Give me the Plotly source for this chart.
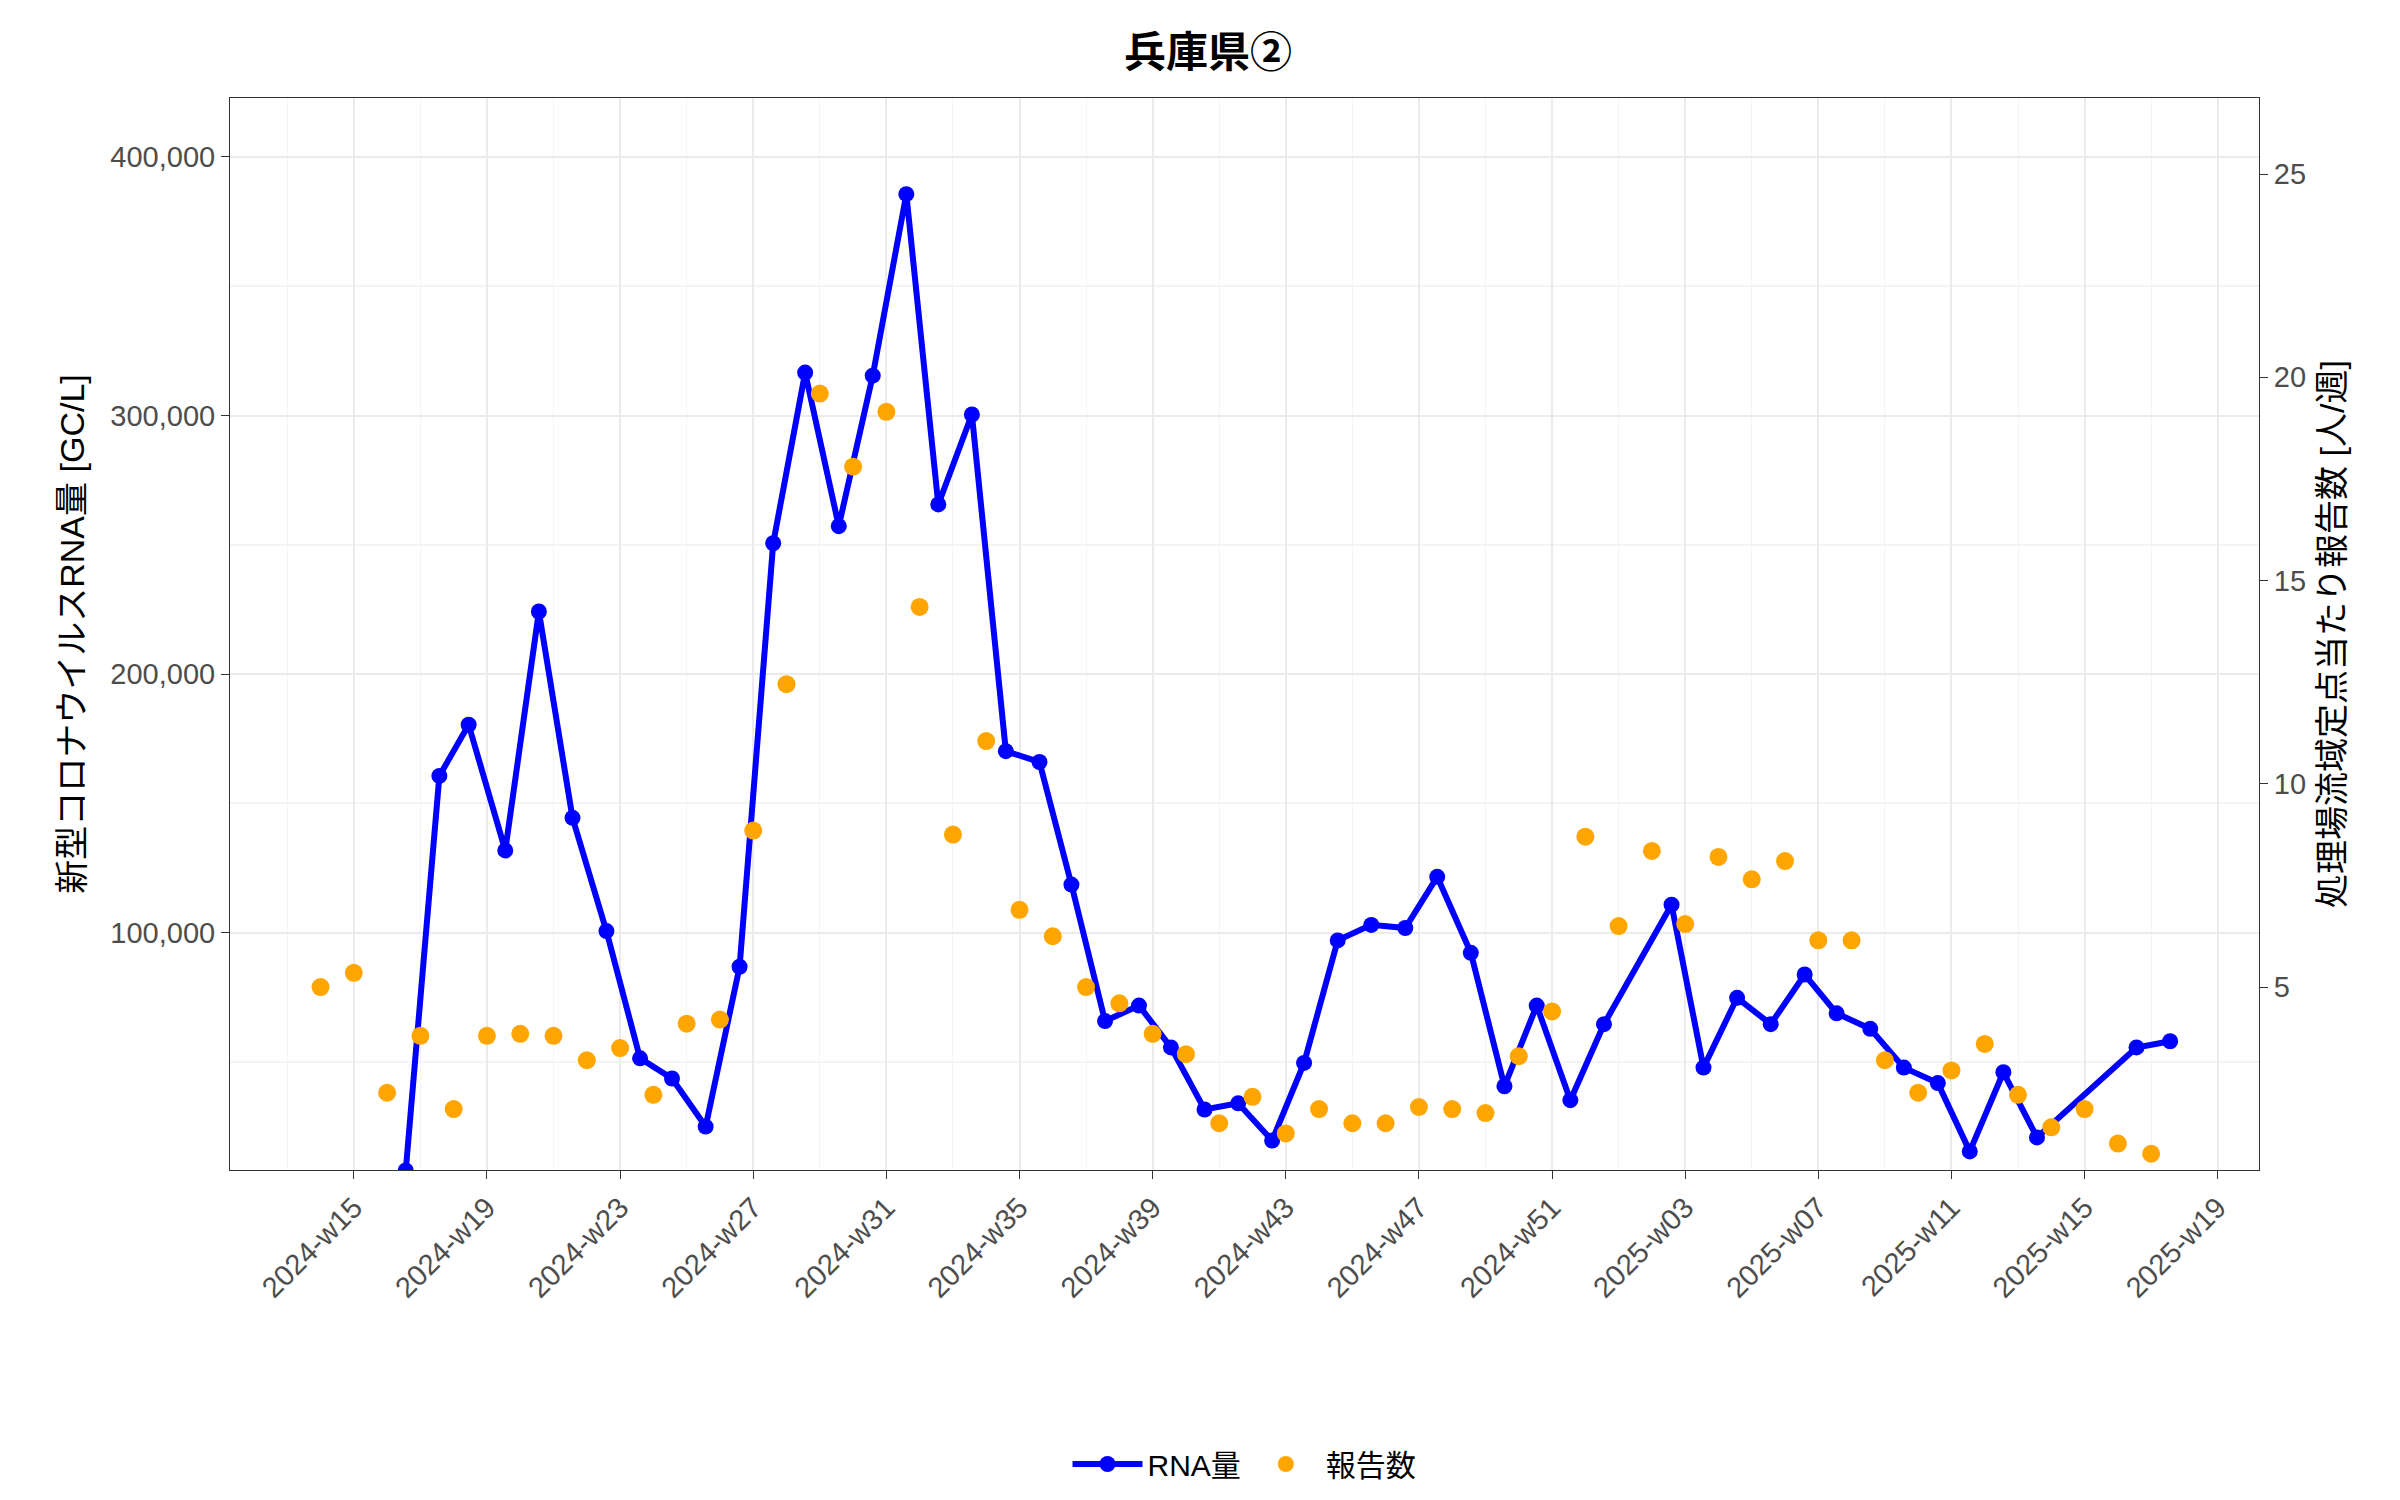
import plotly.graph_objects as go

tick_labels = ["2024-w15","2024-w19","2024-w23","2024-w27","2024-w31","2024-w35","2024-w39","2024-w43",
               "2024-w47","2024-w51","2025-w03","2025-w07","2025-w11","2025-w15","2025-w19"]
tick_pos = [0,4,8,12,16,20,24,28,32,36,40,44,48,52,56]

rep_x = list(range(-1, 55))
rep_y = [5.0,5.35,2.4,3.8,2.0,3.8,3.85,3.8,3.2,3.5,2.35,4.1,4.2,8.85,12.45,19.6,17.8,19.15,14.35,8.75,
         11.05,6.9,6.25,5.0,4.6,3.85,3.35,1.65,2.3,1.4,2.0,1.65,1.65,2.05,2.0,1.9,3.3,4.4,8.7,6.5,
         8.35,6.55,8.2,7.65,8.1,6.15,6.15,3.2,2.4,2.95,3.6,2.35,1.55,2.0,1.15,0.9]

rna_x = [1.56,2.57,3.45,4.55,5.56,6.57,7.59,8.6,9.56,10.57,11.59,12.6,13.56,14.57,15.59,16.6,17.56,18.57,
         19.59,20.6,21.56,22.57,23.59,24.55,25.56,26.57,27.59,28.55,29.56,30.57,31.59,32.55,33.56,34.57,
         35.54,36.55,37.56,39.59,40.55,41.56,42.57,43.59,44.55,45.56,46.57,47.59,48.55,49.56,50.57,53.56,54.57]
rna_y = [8000,160600,180400,131800,224200,144400,100600,51400,43600,25000,86800,250600,316600,257200,
         315400,385600,265600,300400,170200,166000,118600,65800,71800,55600,31600,34000,19600,49600,
         97000,103000,101800,121600,92200,40600,71800,35200,64600,110800,47800,74800,64600,83800,68800,
         62800,47800,41800,15400,46000,20800,55600,58000]

fig = go.Figure()
fig.add_trace(go.Scatter(x=rna_x, y=rna_y, mode="lines+markers", name="RNA量",
                         line=dict(color="#0000FF", width=6), marker=dict(color="#0000FF", size=16)))
fig.add_trace(go.Scatter(x=rep_x, y=rep_y, mode="markers", name="報告数", yaxis="y2",
                         marker=dict(color="#FFA500", size=18)))

font = "Liberation Sans, Noto Sans CJK JP, sans-serif"
fig.update_layout(
    width=2400, height=1500, plot_bgcolor="white", paper_bgcolor="white",
    font=dict(family=font, size=28, color="#333"),
    title=dict(text="<b>兵庫県②</b>", x=0.5, xanchor="center", y=0.98, font=dict(size=42, color="black")),
    margin=dict(l=222, r=149, t=90, b=338),
    xaxis=dict(range=[-3.72, 57.24], tickmode="array", tickvals=tick_pos, ticktext=tick_labels,
               tickangle=-45, showgrid=True, gridcolor="#EBEBEB", gridwidth=2,
               minor=dict(tickmode="array", tickvals=[p+2 for p in tick_pos[:-1]] + [-2], showgrid=True, gridcolor="#F4F4F4", gridwidth=1),
               showline=True, linecolor="#333", mirror=True, ticks="outside", ticklen=8, tickcolor="#333",
               zeroline=False, tickfont=dict(size=29, color="#4D4D4D")),
    yaxis=dict(range=[8200, 422800], tickvals=[100000,200000,300000,400000], tickformat=",",
               showgrid=True, gridcolor="#EBEBEB", gridwidth=2,
               minor=dict(tickvals=[50000,150000,250000,350000], showgrid=True, gridcolor="#F4F4F4"),
               showline=True, linecolor="#333", mirror=True, ticks="outside", ticklen=8, tickcolor="#333",
               zeroline=False, title=dict(text="新型コロナウイルスRNA量 [GC/L]", font=dict(size=34, color="black")),
               tickfont=dict(size=29, color="#4D4D4D")),
    yaxis2=dict(range=[0.5, 26.87], overlaying="y", side="right", tickvals=[5,10,15,20,25],
                showgrid=False, ticks="outside", ticklen=8, tickcolor="#333", zeroline=False,
                title=dict(text="処理場流域定点当たり報告数 [人/週]", font=dict(size=34, color="black")),
                tickfont=dict(size=29, color="#4D4D4D")),
    legend=dict(orientation="h", x=0.5, xanchor="center", y=-0.25, yanchor="top",
                font=dict(size=30, color="black"), itemwidth=70),
)
fig.write_html("out.html")
